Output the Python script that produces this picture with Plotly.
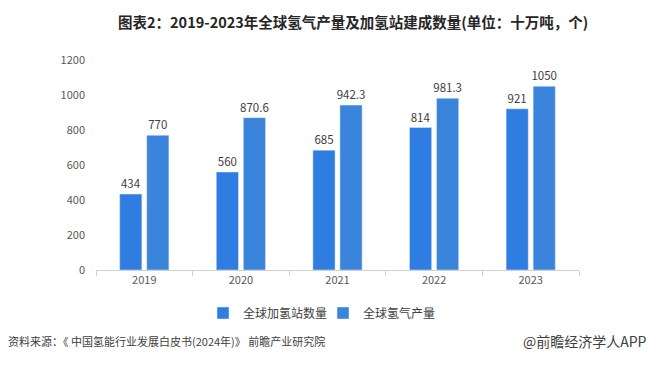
import plotly.graph_objects as go

years = ["2019", "2020", "2021", "2022", "2023"]
stations = [434, 560, 685, 814, 921]
hydrogen = [770, 870.6, 942.3, 981.3, 1050]
station_labels = ["434", "560", "685", "814", "921"]
hydrogen_labels = ["770", "870.6", "942.3", "981.3", "1050"]

FONT = "Noto Sans CJK SC, Microsoft YaHei, sans-serif"
W, H = 652, 366
L, R, T, B = 96, 73, 60, 96
pw, ph = W - L - R, H - T - B

def px(x):
    return (x - L) / pw

def py(y):
    return (H - B - y) / ph

fig = go.Figure()
fig.add_trace(go.Bar(
    x=years, y=stations, name="全球加氢站数量",
    marker_color="#2F7DE1", text=station_labels, textposition="outside",
    constraintext="none",
    textfont=dict(size=11.5, color="#404040", family=FONT), cliponaxis=False,
))
fig.add_trace(go.Bar(
    x=years, y=hydrogen, name="全球氢气产量",
    marker_color="#3A84DC", text=hydrogen_labels, textposition="outside",
    constraintext="none",
    textfont=dict(size=11.5, color="#404040", family=FONT), cliponaxis=False,
))

fig.update_layout(
    width=W, height=H,
    margin=dict(l=L, r=R, t=T, b=B),
    paper_bgcolor="white", plot_bgcolor="white",
    barmode="group", bargap=0.44, bargroupgap=0.18,
    font=dict(family=FONT, color="#595959"),
    showlegend=True,
    legend=dict(orientation="h", x=px(323), y=py(313), xanchor="center", yanchor="middle",
                font=dict(size=12, color="#404040", family=FONT),
                itemwidth=30, traceorder="normal", entrywidth=75),
    xaxis=dict(showline=True, linecolor="#D0D0D0", linewidth=1, ticks="outside",
               tickson="boundaries", tickcolor="#D0D0D0", ticklen=5,
               tickfont=dict(size=11, color="#595959", family=FONT), showgrid=False),
    yaxis=dict(range=[0, 1200], dtick=200, showgrid=False, zeroline=False,
               showline=False, ticks="", ticklabelstandoff=10,
               tickfont=dict(size=11, color="#595959", family=FONT)),
)

fig.add_annotation(text="<b>图表2：2019-2023年全球氢气产量及加氢站建成数量(单位：十万吨，个)</b>",
                   xref="paper", yref="paper", x=px(353), y=py(22), xanchor="center", yanchor="middle",
                   showarrow=False, font=dict(size=14.5, color="#262626", family=FONT))
fig.add_annotation(text="资料来源：《 中国氢能行业发展白皮书(2024年)》 前瞻产业研究院",
                   xref="paper", yref="paper", x=px(6), y=py(341), xanchor="left", yanchor="middle",
                   showarrow=False, font=dict(size=11, color="#404040", family=FONT))
fig.add_annotation(text="@前瞻经济学人APP",
                   xref="paper", yref="paper", x=px(649), y=py(341), xanchor="right", yanchor="middle",
                   showarrow=False, font=dict(size=14, color="#404040", family=FONT))

fig.write_html("out.html", config={"displayModeBar": False},
               post_script="document.body.style.margin='0';document.body.style.padding='0';")
